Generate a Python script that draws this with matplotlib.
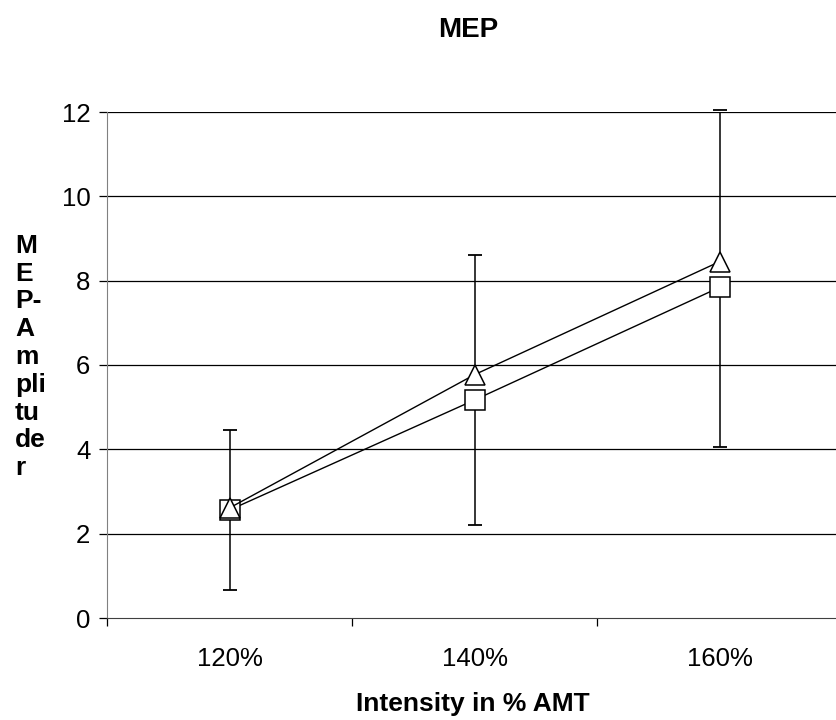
import matplotlib
matplotlib.use("Agg")
import matplotlib.pyplot as plt
import numpy as np

plt.rcParams['font.family'] = ['Liberation Sans', 'DejaVu Sans']

categories = ["120%", "140%", "160%"]
# triangle series (upper error bars) and square series (lower error bars)
tri_vals = [2.61, 5.77, 8.45]
tri_err_up = [1.86, 2.83, 3.59]
sq_vals = [2.56, 5.17, 7.84]
sq_err_down = [1.90, 2.97, 3.78]
y_ticks = [0, 2, 4, 6, 8, 10, 12]

x = np.arange(len(categories))
tri = np.array(tri_vals)
sq = np.array(sq_vals)

fig = plt.figure(figsize=(8.36, 7.2), dpi=100)
ax = fig.add_axes([107 / 836, 1 - 618 / 720, 735 / 836, 506 / 720])

ax.set_ylim(0, 12)
ax.set_xlim(-0.5, len(categories) - 0.5)
ax.set_yticks(y_ticks)
for t in y_ticks[1:]:
    ax.axhline(t, color="black", lw=0.9, zorder=1)

# one-sided error bars
ax.vlines(x, tri, tri + np.array(tri_err_up), color="black", lw=1.1, zorder=2)
ax.plot(x, tri + np.array(tri_err_up), ls="none", marker="_", ms=10, mew=1.3,
        color="black", zorder=2, clip_on=False)
ax.vlines(x, sq - np.array(sq_err_down), sq, color="black", lw=1.1, zorder=2)
ax.plot(x, sq - np.array(sq_err_down), ls="none", marker="_", ms=10, mew=1.3,
        color="black", zorder=2)

ax.plot(x, sq, color="black", lw=1.0, marker="s", ms=14, mfc="white", mec="black", mew=1.1, zorder=3)
ax.plot(x, tri, color="black", lw=1.0, marker="^", ms=15, mfc="white", mec="black", mew=1.1, zorder=4)

ax.set_xticks(np.arange(len(categories) + 1) - 0.5, minor=False)
ax.set_xticklabels([])
ax.set_xticks(x, minor=True)
ax.set_xticklabels(categories, minor=True)
ax.tick_params(axis="x", which="major", length=6, width=0.9, direction="out")
ax.tick_params(axis="x", which="minor", length=0, pad=21, labelsize=18.5)
ax.tick_params(axis="y", length=6, width=0.9, pad=6, labelsize=18.5)

for s in ["top", "right"]:
    ax.spines[s].set_visible(False)
ax.spines["left"].set_color("#808080")
ax.spines["bottom"].set_color("#404040")

fig.text(468 / 836, 1 - 30 / 720, "MEP", ha="center", va="center",
         fontsize=20, fontweight="bold")
fig.text(473 / 836, 1 - 704 / 720, "Intensity in % AMT", ha="center", va="center",
         fontsize=19, fontweight="bold")
fig.text(15 / 836, 1 - 357 / 720, "M\nE\nP-\nA\nm\npli\ntu\nde\nr", ha="left", va="center",
         fontsize=19, fontweight="bold", linespacing=1.2)

fig.savefig("out.png", dpi=100)
